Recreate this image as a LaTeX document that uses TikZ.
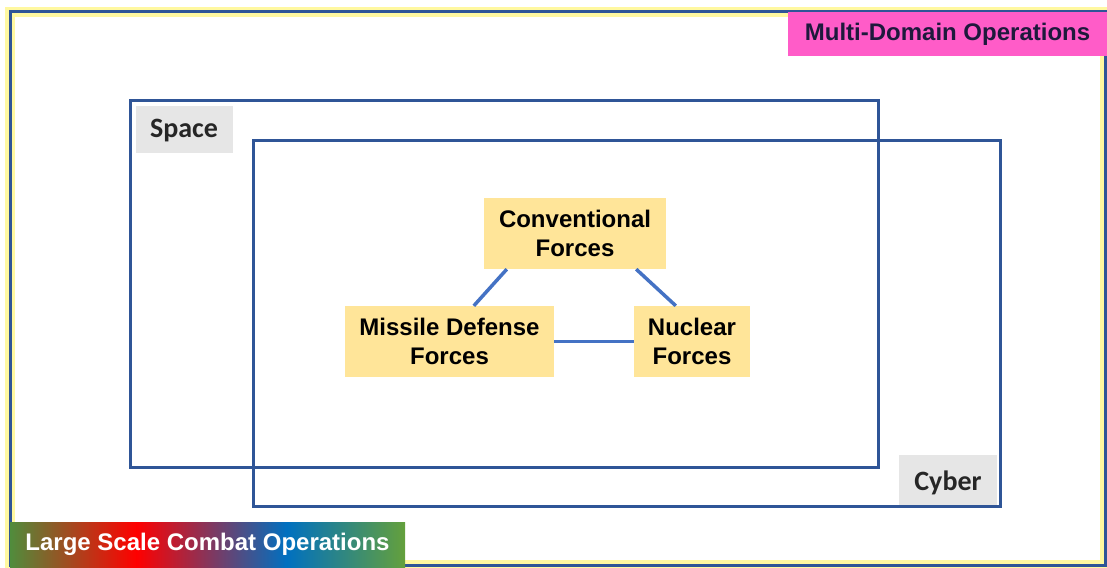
\documentclass[tikz,border=0pt]{standalone}
\usepackage{fontspec}
\setmainfont{Liberation Sans}
\newfontfamily\carlito{Carlito}
\usetikzlibrary{calc}

\definecolor{frameblue}{RGB}{47,85,151}
\definecolor{linkblue}{RGB}{68,114,196}
\definecolor{glow}{RGB}{255,248,160}
\definecolor{forceyellow}{RGB}{255,229,153}
\definecolor{taggray}{RGB}{230,230,230}
\definecolor{mdopink}{RGB}{255,92,200}
\definecolor{lscogreen}{RGB}{80,140,60}
\definecolor{lscored}{RGB}{255,0,0}
\definecolor{lscoblue}{RGB}{0,112,192}
\definecolor{lscogreenb}{RGB}{100,160,60}

% the node covers 25bp..75bp of the shading
\pgfdeclarehorizontalshading{lscoshade}{100bp}{%
  color(0bp)=(lscogreen); color(25bp)=(lscogreen); color(41bp)=(lscored);
  color(60bp)=(lscoblue); color(75bp)=(lscogreenb); color(100bp)=(lscogreenb)}

\tikzset{
  force/.style={fill=forceyellow, align=center, inner sep=0pt,
    font=\bfseries\fontsize{24}{29}\selectfont, minimum height=71pt},
  tag/.style={fill=taggray, inner sep=0pt, text=black!85,
    font=\carlito\bfseries\fontsize{28}{32}\selectfont},
  domainbox/.style={draw=frameblue, line width=3pt},
  link/.style={draw=linkblue, line width=3.5pt}
}

\begin{document}
\begin{tikzpicture}[x=1pt,y=-1pt]
\useasboundingbox (0,0) rectangle (1107,567);

\draw [glow, line width=10pt] (10,12) rectangle (1105,565);
\draw [frameblue, line width=3pt] (10,12) rectangle (1105,565);

\draw [domainbox] (130,101) rectangle (878,467);
\draw [domainbox] (253,140) rectangle (1000,506);

\fill [taggray] (136,106) rectangle (233,153);
\node [tag, fill=none] (space) at (184,131) {Space};
\fill [taggray] (899,455) rectangle (997,505);
\node [tag, fill=none] (cyber) at (948,483) {Cyber};

\node [fill=mdopink, inner sep=0pt, minimum width=319pt, minimum height=44pt,
  text={rgb,255:red,30;green,25;blue,60}, font=\bfseries\fontsize{24}{28}\selectfont]
  (mdo) at (947.5,34) {Multi-Domain Operations};

\node [shading=lscoshade, inner sep=0pt, minimum width=395pt, minimum height=45pt,
  text=white, font=\bfseries\fontsize{24}{28}\selectfont]
  (lsco) at (207.5,544.5) {Large Scale Combat Operations};

\node [force, minimum width=182pt] (conv) at (575,233.5) {Conventional\\Forces};
\node [force, minimum width=209pt] (missile) at (449.5,341.5) {Missile Defense\\Forces};
\node [force, minimum width=116pt] (nuclear) at (692,341.5) {Nuclear\\Forces};

\draw [link] ([xshift=23pt]conv.south west) -- ([xshift=129pt]missile.north west);
\draw [link] ([xshift=-30pt]conv.south east) -- ([xshift=42pt]nuclear.north west);
\draw [link] (missile.east) -- (nuclear.west);
\end{tikzpicture}
\end{document}
